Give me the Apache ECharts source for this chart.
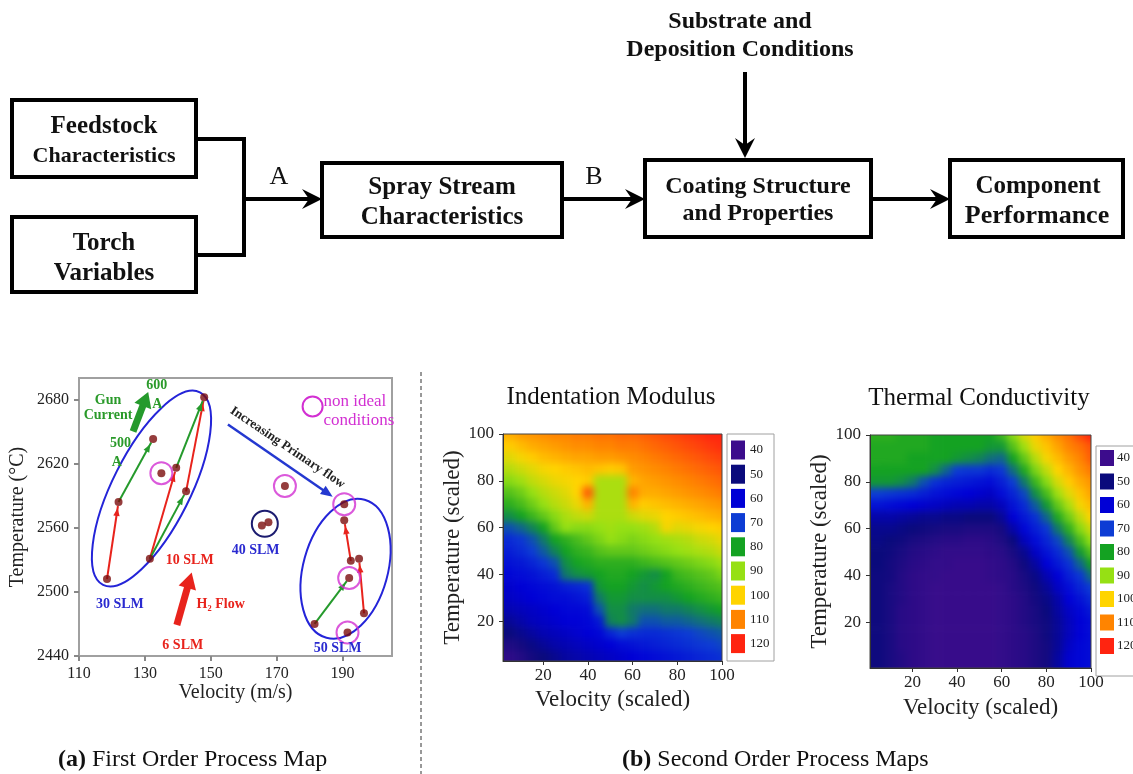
<!DOCTYPE html>
<html>
<head>
<meta charset="utf-8">
<script src="https://cdn.jsdelivr.net/npm/echarts@6/dist/echarts.min.js"></script>
<style>
html,body{margin:0;padding:0;background:#fff}
#wrap{position:relative;width:1133px;height:774px;overflow:hidden}
#main{position:absolute;left:0;top:0;width:1133px;height:774px;z-index:2}
.heat{position:absolute;overflow:hidden;z-index:1}
.heat > div{position:absolute;filter:blur(3.5px)}
</style>
</head>
<body>
<div id="wrap">
  <div id="heatModulus" class="heat"><div></div></div>
  <div id="heatConductivity" class="heat"><div></div></div>
  <div id="main"></div>
</div>
<script>
// ---------- (a) first order process map ----------
const velocity    = [118.5, 122, 132.5, 131.5, 139.5, 142.5, 148, 135, 165.5, 167.5, 172.5, 190.5, 190.5, 192.5, 195, 192, 196.5, 181.5, 191.5];
const temperature = [2512, 2584, 2643, 2531, 2616, 2594, 2682, 2611, 2562, 2565, 2599, 2582, 2567, 2529, 2531, 2513, 2480, 2470, 2462];
const nonIdeal = [7, 10, 11, 15, 18];                          // circled points
const h2Steps = [[0, 1], [3, 4], [5, 6], [13, 12], [16, 14]];  // red: H2 flow 6 -> 10 SLM
const currentSteps = [[1, 2], [3, 5], [4, 6], [17, 15]];       // green: gun current 500 -> 600 A
const velTicks = [110, 130, 150, 170, 190];
const tempTicks = [2440, 2500, 2560, 2620, 2680];

// primary-gas groups (centre, end of long axis, short/long ratio)
const groupRings = [
  [132, 2596.6, 146.7, 2686.6, 0.36],   // 30 SLM
  [190.9, 2521.6, 196.7, 2586.2, 0.59]  // 50 SLM
];
const cluster40 = [166.4, 2563.7];
const nonIdealKey = [180.9, 2673.4];

// annotation arrows: [from vel, from temp, to vel, to temp]
const bigArrows = [
  [126.4, 2650, 131, 2687],      // gun current
  [139.7, 2469, 144.2, 2518],    // H2 flow
  [155.2, 2656.6, 187, 2589]     // increasing primary flow
];

const noteText = ['Gun', 'Current', '600', 'A', '500', 'A', 'Increasing Primary flow', 'non ideal', 'conditions',
                  '30 SLM', '10 SLM', '6 SLM', 'H\u2082 Flow', '40 SLM', '50 SLM'];
const noteVel  = [118.8, 118.8, 133.6, 133.8, 122.6, 121.5, 173.3, 184.2, 184.2, 122.4, 143.6, 141.5, 153, 163.6, 188.5];
const noteTemp = [2679, 2665, 2693, 2675.3, 2638.8, 2621, 2635, 2678, 2660, 2488, 2529, 2450.3, 2488, 2538.4, 2447.5];
const noteKind = ['g', 'g', 'g', 'g', 'g', 'g', 'k', 'm', 'm', 'b', 'r', 'r', 'r', 'b', 'b'];

// ---------- (b) second order process maps ----------
const scaledSteps = [5, 10, 15, 20, 25, 30, 35, 40, 45, 50, 55, 60, 65, 70, 75, 80, 85, 90, 95, 100];
const rowLevels   = [100, 95, 90, 85, 80, 75, 70, 65, 60, 55, 50, 45, 40, 35, 30, 25, 20, 15, 10, 5];
const scaledTicks = [20, 40, 60, 80, 100];
const legendTicks = [40, 50, 60, 70, 80, 90, 100, 110, 120];

// Indentation Modulus, rows from top (100) to bottom (5), columns velocity 5..100
const modulusRows = [
  [105,107,108,109,110,110,111,111,112,112,113,113,114,115,116,117,118,119,120,120],
  [101,103,105,106,107,108,109,109,110,110,111,111,112,113,114,115,116,117,118,119],
  [97,99,101,103,104,105,106,106,107,107,108,109,110,111,112,113,114,115,116,117],
  [93,95,97,99,100,101,102,103,102,101,102,107,108,109,110,111,112,113,114,115],
  [89,91,94,96,98,99,100,101,92,92,92,104,106,107,108,109,110,111,112,113],
  [85,87,90,93,95,97,100,114,92,92,92,110,105,105,106,107,108,109,110,111],
  [82,84,87,90,93,95,98,104,92,92,92,104,101,102,103,104,105,106,107,108],
  [78,80,83,86,89,92,94,95,92,92,92,95,97,98,100,101,102,103,104,105],
  [72,74,77,80,86,90,89,89,90,91,90,90,91,93,99,97,98,99,100,101],
  [67,69,72,76,80,82,84,86,88,90,89,88,89,90,91,92,93,95,96,98],
  [65,67,70,73,77,80,82,83,85,86,86,86,87,88,89,90,91,92,93,95],
  [63,64,66,69,72,78,80,81,82,82,82,82,83,84,85,86,87,88,89,91],
  [61,62,63,65,67,76,78,79,80,81,81,80,79,78,80,83,84,85,86,88],
  [59,60,61,62,63,65,66,68,79,80,80,79,78,79,80,81,82,83,84,85],
  [58,59,60,61,62,62,63,65,76,79,79,78,78,78,78,79,80,81,82,83],
  [56,57,58,59,60,61,61,62,72,78,78,76,75,75,76,76,77,78,79,80],
  [53,55,57,58,59,60,60,61,64,77,78,76,72,72,73,73,74,75,76,77],
  [50,52,54,56,57,58,59,60,61,66,70,68,67,67,68,69,70,71,72,73],
  [46,48,51,53,55,56,57,58,59,60,62,63,64,65,66,67,68,69,70,71],
  [43,45,48,50,52,54,55,56,57,58,59,60,61,62,63,64,65,66,67,68]
];

// Thermal Conductivity, same layout
const conductivityRows = [
  [82,82,81,81,81,80,80,80,80,80,80,83,89,96,101,105,109,112,116,120],
  [81,81,81,81,81,80,80,80,80,80,79,79,85,91,98,102,106,110,112,115],
  [81,81,81,80,80,80,80,79,78,77,75,74,80,86,93,99,103,107,110,114],
  [80,80,80,80,80,78,74,70,69,69,67,69,75,81,88,94,100,104,108,111],
  [79,79,78,76,72,68,66,65,64,63,62,65,70,76,83,89,96,101,105,108],
  [70,69,68,67,65,63,62,61,60,59,58,62,66,71,78,84,91,97,102,106],
  [63,62,61,60,59,58,57,56,56,55,55,57,63,67,73,79,86,92,99,103],
  [55,55,54,53,52,52,51,51,50,50,50,53,60,64,68,74,81,87,94,100],
  [52,52,51,50,49,48,47,47,46,46,46,48,55,61,65,69,76,82,89,95],
  [51,50,49,47,46,45,44,44,43,43,44,46,50,57,62,66,71,77,84,90],
  [50,49,47,45,44,43,42,42,42,42,43,44,47,52,58,63,67,72,79,85],
  [50,48,46,44,43,42,42,41,41,41,42,43,45,49,54,60,64,68,74,80],
  [49,48,45,43,42,42,41,41,41,41,42,43,44,47,51,56,60,65,69,75],
  [49,47,45,43,42,41,41,41,41,41,41,42,44,46,49,53,58,62,66,70],
  [49,47,45,43,42,41,41,41,41,41,41,42,43,45,48,51,55,60,63,67],
  [49,47,44,43,42,41,41,41,41,41,41,42,43,45,47,50,54,58,61,64],
  [49,47,44,43,42,41,41,41,41,41,41,42,43,45,47,49,53,57,60,62],
  [49,47,44,43,42,41,41,41,41,41,41,42,43,44,46,49,53,57,60,62],
  [49,47,44,43,42,41,41,41,41,41,41,42,43,44,46,48,53,58,61,62],
  [49,47,45,43,42,41,41,41,41,41,41,42,43,44,46,48,54,59,61,62]
];

// ---------- styling ----------
const SERIF = '"Liberation Serif","Times New Roman",serif';
const scaleColors = ['#3c0c8c', '#0a0a7c', '#0000d6', '#0d3cd4', '#14a222', '#96e014', '#ffd400', '#ff8400', '#ff2410'];
const RED = '#e8231c', GREEN = '#259a2c', DOT = '#7a0d0d', RING_BLUE = '#2424d8', MAGENTA = '#d22fd2';
const noteStyle = {
  g: { color: '#2a9a2a', font: 'bold 14px ' + SERIF },
  k: { color: '#222', font: 'bold 13px ' + SERIF, rot: -34 * Math.PI / 180 },
  m: { color: MAGENTA, font: '17px ' + SERIF, align: 'left' },
  b: { color: '#2a2ad0', font: 'bold 14px ' + SERIF },
  r: { color: RED, font: 'bold 14px ' + SERIF }
};

// plot rectangles of the three panels
const panels = {
  map1: { left: 79, top: 378, width: 313, height: 278 },
  modulus: { left: 503, top: 434, width: 219, height: 227, xMin: 2, yMin: 3 },
  conductivity: { left: 870, top: 435, width: 221, height: 233, xMin: 1, yMin: 0.5 }
};

function cellsFrom(rows) {
  const out = [];
  rows.forEach((row, r) => row.forEach((v, c) => out.push([scaledSteps[c], rowLevels[r], v])));
  return out;
}

// each cell covers +-2.5 around its grid value; border cells run past the frame
function renderCell(params, api) {
  const x = api.value(0), y = api.value(1);
  const first = scaledSteps[0], last = scaledSteps[scaledSteps.length - 1];
  const x0 = x <= first ? -10 : x - 2.5, x1 = x >= last ? 110 : x + 2.5;
  const y0 = y <= first ? -10 : y - 2.5, y1 = y >= last ? 110 : y + 2.5;
  const p0 = api.coord([x0, y1]);
  const p1 = api.coord([x1, y0]);
  return { type: 'rect', shape: { x: p0[0], y: p0[1], width: p1[0] - p0[0] + 0.6, height: p1[1] - p0[1] + 0.6 },
    style: { fill: api.visual('color') } };
}

const PAD = 14;
function drawSurface(id, rows, box) {
  const holder = document.getElementById(id);
  Object.assign(holder.style, { left: box.left + 'px', top: box.top + 'px', width: box.width + 'px', height: box.height + 'px' });
  const inner = holder.firstElementChild;
  Object.assign(inner.style, { left: -PAD + 'px', top: -PAD + 'px', width: (box.width + 2 * PAD) + 'px', height: (box.height + 2 * PAD) + 'px' });
  const c = echarts.init(inner, null, { renderer: 'canvas' });
  c.setOption({
    animation: false,
    grid: { left: PAD, top: PAD, width: box.width, height: box.height },
    xAxis: { type: 'value', min: box.xMin, max: 100, show: false },
    yAxis: { type: 'value', min: box.yMin, max: 100, show: false },
    visualMap: { type: 'continuous', show: false, min: 40, max: 120, dimension: 2, inRange: { color: scaleColors } },
    series: [{ type: 'custom', clip: false, encode: { x: 0, y: 1 }, renderItem: renderCell, data: cellsFrom(rows) }]
  });
}
drawSurface('heatModulus', modulusRows, panels.modulus);
drawSurface('heatConductivity', conductivityRows, panels.conductivity);

function headPoints(tip, ux, uy, len, half) {
  const bx = tip[0] - ux * len, by = tip[1] - uy * len;
  return [tip, [bx - uy * half, by + ux * half], [bx + uy * half, by - ux * half]];
}

function renderStep(params, api) {
  const a = api.coord([api.value(0), api.value(1)]);
  const b = api.coord([api.value(2), api.value(3)]);
  const color = api.value(4) === 0 ? RED : GREEN;
  const dx = b[0] - a[0], dy = b[1] - a[1], L = Math.hypot(dx, dy);
  const ux = dx / L, uy = dy / L;
  const tip = [b[0] - ux * 6, b[1] - uy * 6];
  return { type: 'group', children: [
    { type: 'line', shape: { x1: a[0], y1: a[1], x2: b[0] - ux * 4, y2: b[1] - uy * 4 }, style: { stroke: color, lineWidth: 2 } },
    { type: 'polygon', shape: { points: headPoints(tip, ux, uy, 8, 3.2) }, style: { fill: color } }
  ] };
}

function renderRing(params, api) {
  const c = api.coord([api.value(0), api.value(1)]);
  const t = api.coord([api.value(2), api.value(3)]);
  const dx = t[0] - c[0], dy = t[1] - c[1];
  const rx = Math.hypot(dx, dy);
  return {
    type: 'ellipse', x: c[0], y: c[1], rotation: -Math.atan2(dy, dx),
    shape: { cx: 0, cy: 0, rx: rx, ry: rx * api.value(4) },
    style: { fill: 'none', stroke: RING_BLUE, lineWidth: 2 }
  };
}

function renderBigArrow(params, api) {
  const i = params.dataIndex;
  const a = api.coord([api.value(0), api.value(1)]);
  const b = api.coord([api.value(2), api.value(3)]);
  const dx = b[0] - a[0], dy = b[1] - a[1], L = Math.hypot(dx, dy);
  const ux = dx / L, uy = dy / L;
  const st = [
    { color: GREEN, w: 7, len: 15, half: 9 },
    { color: RED, w: 7, len: 16, half: 9 },
    { color: '#2438d0', w: 2.5, len: 12, half: 5 }
  ][i];
  return { type: 'group', children: [
    { type: 'line', shape: { x1: a[0], y1: a[1], x2: b[0] - ux * st.len * 0.8, y2: b[1] - uy * st.len * 0.8 },
      style: { stroke: st.color, lineWidth: st.w } },
    { type: 'polygon', shape: { points: headPoints(b, ux, uy, st.len, st.half) }, style: { fill: st.color } }
  ] };
}

function renderNote(params, api) {
  const i = params.dataIndex;
  const p = api.coord([api.value(0), api.value(1)]);
  const k = noteStyle[noteKind[i]];
  return {
    type: 'text', x: p[0], y: p[1], rotation: k.rot || 0,
    style: { text: noteText[i], fill: k.color, font: k.font, align: k.align || 'center', verticalAlign: 'middle' }
  };
}

function renderMarker(params, api) {
  const p = api.coord([api.value(0), api.value(1)]);
  const isKey = api.value(2) === 1;
  return {
    type: 'circle', shape: { cx: p[0], cy: p[1], r: isKey ? 10 : 13 },
    style: { fill: 'none', stroke: isKey ? MAGENTA : '#1c1c70', lineWidth: 2 }
  };
}

// ---------- flow diagram (top) ----------
const boxes = [
  [12, 100, 184, 77], [12, 217, 184, 75], [322, 163, 240, 74], [645, 160, 226, 77], [950, 160, 173, 77]
];
const boxText = [
  ['Feedstock', 104, 127, 25], ['Characteristics', 104, 156, 22],
  ['Torch', 104, 244, 25], ['Variables', 104, 274, 25],
  ['Spray Stream', 442, 188, 25], ['Characteristics', 442, 218, 25],
  ['Coating Structure', 758, 187, 24], ['and Properties', 758, 214, 24],
  ['Component', 1038, 187, 25], ['Performance', 1037, 216, 26],
  ['Substrate and', 740, 22, 24], ['Deposition Conditions', 740, 50, 24]
];

function rightHead(x, y) { return [[x, y], [x - 20, y - 10], [x - 13, y], [x - 20, y + 10]]; }
function downHead(x, y) { return [[x, y], [x - 10, y - 20], [x, y - 13], [x + 10, y - 20]]; }

const graphics = [];
boxes.forEach(b => graphics.push({ type: 'rect', shape: { x: b[0], y: b[1], width: b[2], height: b[3] },
  style: { fill: '#fff', stroke: '#000', lineWidth: 4 } }));
graphics.push({ type: 'polyline', shape: { points: [[196, 139], [244, 139], [244, 255], [196, 255]] },
  style: { stroke: '#000', lineWidth: 4, fill: 'none' } });
[[244, 322], [562, 645], [871, 950]].forEach(s => {
  graphics.push({ type: 'line', shape: { x1: s[0], y1: 199, x2: s[1] - 12, y2: 199 }, style: { stroke: '#000', lineWidth: 4 } });
  graphics.push({ type: 'polygon', shape: { points: rightHead(s[1], 199) }, style: { fill: '#000' } });
});
graphics.push({ type: 'line', shape: { x1: 745, y1: 72, x2: 745, y2: 146 }, style: { stroke: '#000', lineWidth: 4 } });
graphics.push({ type: 'polygon', shape: { points: downHead(745, 158) }, style: { fill: '#000' } });
boxText.forEach(t => graphics.push({ type: 'text', x: t[1], y: t[2],
  style: { text: t[0], font: 'bold ' + t[3] + 'px ' + SERIF, fill: '#111', align: 'center', verticalAlign: 'middle' } }));
graphics.push({ type: 'text', x: 279, y: 177, style: { text: 'A', font: '26px ' + SERIF, fill: '#111', align: 'center', verticalAlign: 'middle' } });
graphics.push({ type: 'text', x: 594, y: 177, style: { text: 'B', font: '26px ' + SERIF, fill: '#111', align: 'center', verticalAlign: 'middle' } });

// separator and captions
graphics.push({ type: 'line', shape: { x1: 421, y1: 372, x2: 421, y2: 774 }, style: { stroke: '#333', lineWidth: 1, lineDash: [4, 3] } });
graphics.push({ type: 'text', x: 58, y: 760, style: { text: '{b|(a)} First Order Process Map', font: '24px ' + SERIF, fill: '#111',
  align: 'left', verticalAlign: 'middle', rich: { b: { font: 'bold 24px ' + SERIF, fill: '#111' } } } });
graphics.push({ type: 'text', x: 622, y: 760, style: { text: '{b|(b)} Second Order Process Maps', font: '24px ' + SERIF, fill: '#111',
  align: 'left', verticalAlign: 'middle', rich: { b: { font: 'bold 24px ' + SERIF, fill: '#111' } } } });

// map titles
graphics.push({ type: 'text', x: 611, y: 397, style: { text: 'Indentation Modulus', font: '25px ' + SERIF, fill: '#111', align: 'center', verticalAlign: 'middle' } });
graphics.push({ type: 'text', x: 979, y: 398, style: { text: 'Thermal Conductivity', font: '25px ' + SERIF, fill: '#111', align: 'center', verticalAlign: 'middle' } });

// colour keys
function colourKey(bx, by, bw, bh, sx, sw, sh, first, step, lx) {
  graphics.push({ type: 'rect', shape: { x: bx, y: by, width: bw, height: bh }, style: { fill: '#fff', stroke: '#a0a0a0', lineWidth: 1 } });
  legendTicks.forEach((v, i) => {
    const cy = first + i * step;
    graphics.push({ type: 'rect', shape: { x: sx, y: cy - sh / 2, width: sw, height: sh }, style: { fill: scaleColors[i] } });
    graphics.push({ type: 'text', x: lx, y: cy, style: { text: String(v), font: '13px ' + SERIF, fill: '#222', align: 'left', verticalAlign: 'middle' } });
  });
}
colourKey(727, 434, 47, 227, 731, 14, 19, 450, 24.2, 750);
colourKey(1096, 446, 45, 230, 1100, 14, 16, 458, 23.5, 1117);

// ---------- axes ----------
const axisFont = { fontFamily: SERIF, color: '#222' };
const plain = v => String(v);
function scaledX(grid, min, gap) {
  return { type: 'value', gridIndex: grid, min: min, max: 100,
    axisLine: { show: true, lineStyle: { color: '#333', width: 1 } },
    axisTick: { show: true, length: 4, customValues: scaledTicks, lineStyle: { color: '#333' } },
    axisLabel: { customValues: scaledTicks, formatter: plain, fontSize: 17, margin: 6, ...axisFont },
    splitLine: { show: false },
    name: 'Velocity (scaled)', nameLocation: 'middle', nameGap: gap,
    nameTextStyle: { fontSize: 23, fontFamily: SERIF, color: '#222' } };
}
function scaledY(grid, min, gap) {
  return { type: 'value', gridIndex: grid, min: min, max: 100,
    axisLine: { show: true, lineStyle: { color: '#333', width: 1 } },
    axisTick: { show: true, length: 4, customValues: scaledTicks, lineStyle: { color: '#333' } },
    axisLabel: { customValues: scaledTicks, formatter: plain, fontSize: 17, margin: 9, ...axisFont },
    splitLine: { show: false },
    name: 'Temperature (scaled)', nameLocation: 'middle', nameGap: gap, nameRotate: 90,
    nameTextStyle: { fontSize: 23, fontFamily: SERIF, color: '#222' } };
}

const gridOf = p => ({ left: p.left, top: p.top, width: p.width, height: p.height });
const frame = { show: true, borderColor: '#444', borderWidth: 1, backgroundColor: 'transparent' };

const option = {
  backgroundColor: 'transparent',
  animation: false,
  grid: [
    Object.assign(gridOf(panels.map1), { show: true, borderColor: '#a0a0a0', borderWidth: 2, backgroundColor: 'transparent' }),
    Object.assign(gridOf(panels.modulus), frame),
    Object.assign(gridOf(panels.conductivity), frame)
  ],
  xAxis: [
    { type: 'value', gridIndex: 0, min: 110, max: 205,
      axisLine: { show: true, lineStyle: { color: '#a0a0a0', width: 2 } },
      axisTick: { show: true, length: 5, customValues: velTicks, lineStyle: { color: '#888', width: 2 } },
      axisLabel: { customValues: velTicks, formatter: plain, fontSize: 16, margin: 10, ...axisFont },
      splitLine: { show: false },
      name: 'Velocity (m/s)', nameLocation: 'middle', nameGap: 26,
      nameTextStyle: { fontSize: 20, fontFamily: SERIF, color: '#222' } },
    scaledX(1, panels.modulus.xMin, 27),
    scaledX(2, panels.conductivity.xMin, 28)
  ],
  yAxis: [
    { type: 'value', gridIndex: 0, min: 2440, max: 2700,
      axisLine: { show: true, lineStyle: { color: '#a0a0a0', width: 2 } },
      axisTick: { show: true, length: 5, customValues: tempTicks, lineStyle: { color: '#888', width: 2 } },
      axisLabel: { customValues: tempTicks, formatter: plain, fontSize: 16, margin: 10, ...axisFont },
      splitLine: { show: false },
      name: 'Temperature (\u00B0C)', nameLocation: 'middle', nameGap: 51, nameRotate: 90,
      nameTextStyle: { fontSize: 20, fontFamily: SERIF, color: '#222' } },
    scaledY(1, panels.modulus.yMin, 37),
    scaledY(2, panels.conductivity.yMin, 39)
  ],
  series: [
    { type: 'custom', name: 'groups', xAxisIndex: 0, yAxisIndex: 0, encode: { x: 0, y: 1 },
      renderItem: renderRing, data: groupRings, z: 2 },
    { type: 'custom', name: 'steps', xAxisIndex: 0, yAxisIndex: 0, encode: { x: 0, y: 1 },
      renderItem: renderStep, z: 3,
      data: h2Steps.map(s => [velocity[s[0]], temperature[s[0]], velocity[s[1]], temperature[s[1]], 0])
        .concat(currentSteps.map(s => [velocity[s[0]], temperature[s[0]], velocity[s[1]], temperature[s[1]], 1])) },
    { type: 'scatter', name: 'conditions', xAxisIndex: 0, yAxisIndex: 0, symbolSize: 8, z: 4,
      itemStyle: { color: DOT }, data: velocity.map((v, i) => [v, temperature[i]]) },
    { type: 'scatter', name: 'non ideal', xAxisIndex: 0, yAxisIndex: 0, symbolSize: 22, z: 5,
      itemStyle: { color: 'rgba(0,0,0,0)', borderColor: MAGENTA, borderWidth: 2 },
      data: nonIdeal.map(i => [velocity[i], temperature[i]]) },
    { type: 'custom', name: 'markers', xAxisIndex: 0, yAxisIndex: 0, encode: { x: 0, y: 1 },
      renderItem: renderMarker, z: 5,
      data: [[cluster40[0], cluster40[1], 0], [nonIdealKey[0], nonIdealKey[1], 1]] },
    { type: 'custom', name: 'arrows', xAxisIndex: 0, yAxisIndex: 0, encode: { x: 0, y: 1 },
      renderItem: renderBigArrow, data: bigArrows, z: 5 },
    { type: 'custom', name: 'notes', xAxisIndex: 0, yAxisIndex: 0, encode: { x: 0, y: 1 },
      renderItem: renderNote, data: noteVel.map((v, i) => [v, noteTemp[i]]), z: 6 }
  ],
  graphic: { elements: graphics }
};

const chart = echarts.init(document.getElementById('main'), null, { renderer: 'canvas' });
chart.setOption(option);
</script>
</body>
</html>
